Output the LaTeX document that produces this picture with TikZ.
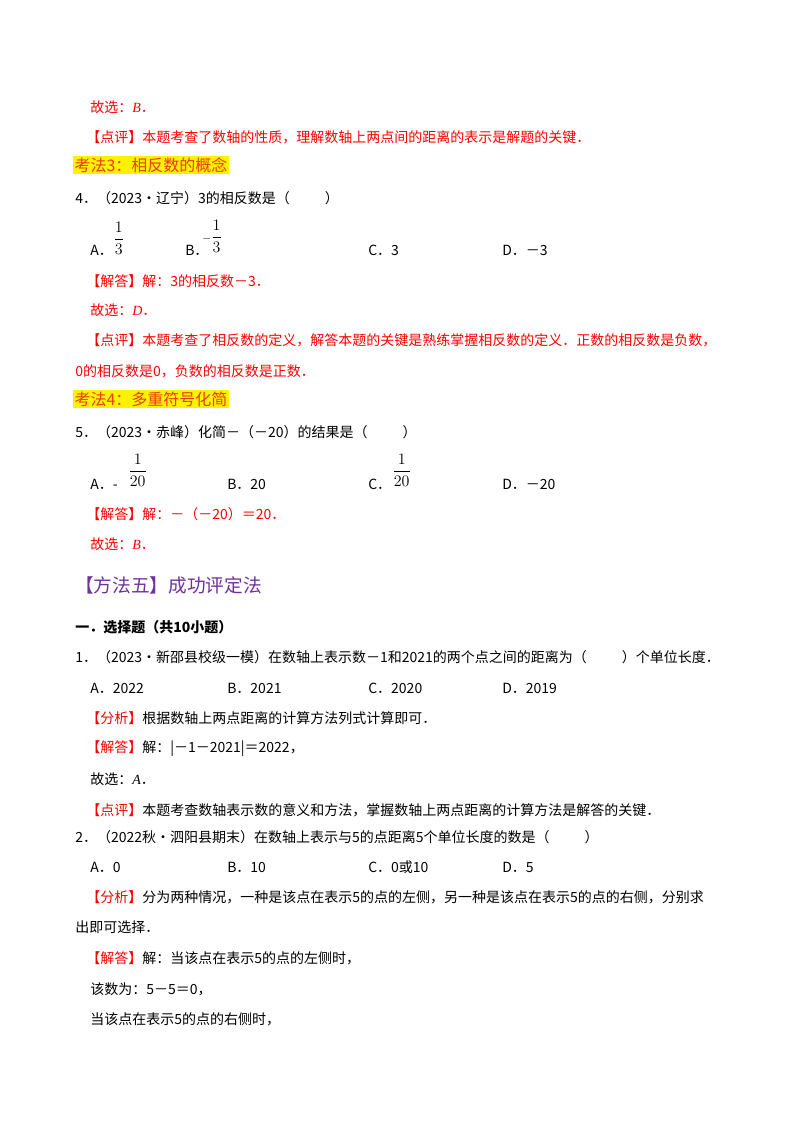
\documentclass[tikz,border=0pt]{standalone}
\usepackage{fontspec}
\setmainfont{Noto Sans CJK SC}
\newfontfamily\lat{Liberation Serif}
\begin{document}
\begin{tikzpicture}[x=0.75pt,y=-0.75pt,
  t/.style={anchor=west,inner sep=0pt,font=\fontsize{10.5}{12}\selectfont},
  r/.style={t,text=red},
  hl/.style={t,fill=yellow,text={rgb,255:red,235;green,60;blue,20},inner sep=1pt,font=\fontsize{12}{14}\selectfont},
  fr/.style={anchor=west,inner sep=0pt,font=\fontsize{12}{14}\selectfont\lat}]
\useasboundingbox (0,0) rectangle (800,1132);
\fill[white] (0,0) rectangle (800,1132);
\node[r] (a1) at (90,107) {故选：\textit{\lat B}．};
\node[r] (a2) at (86,137) {【点评】本题考查了数轴的性质，理解数轴上两点间的距离的表示是解题的关键．};
\node[hl] (h3) at (73,165) {考法3：相反数的概念};
\node[t] (q4) at (75,198) {4．（2023•辽宁）3的相反数是（\hspace{2.5em}）};
\node[t] (q4a) at (90,250) {A．};
\node[fr] (f4a) at (113,238) {$\displaystyle\frac{1}{3}$};
\node[t] (q4b) at (185,250) {B．};
\node[fr] (f4b) at (202,236) {$\displaystyle{\scriptstyle-}\frac{1}{3}$};
\node[t] (q4c) at (368,250) {C．3};
\node[t] (q4d) at (502,250) {D．－3};
\node[r] (s4) at (86,281) {【解答】解：3的相反数－3．};
\node[r] (g4) at (90,310) {故选：\textit{\lat D}．};
\node[r] (p4) at (86,340) {【点评】本题考查了相反数的定义，解答本题的关键是熟练掌握相反数的定义．正数的相反数是负数，};
\node[r] (p4b) at (75,371) {0的相反数是0，负数的相反数是正数．};
\node[hl] (h4) at (73,399) {考法4：多重符号化简};
\node[t] (q5) at (75,432) {5．（2023•赤峰）化简－（－20）的结果是（\hspace{2.5em}）};
\node[t] (q5a) at (90,484) {A．-};
\node[fr] (f5a) at (128,470) {$\displaystyle\frac{1}{20}$};
\node[t] (q5b) at (227,484) {B．20};
\node[t] (q5c) at (368,484) {C．};
\node[fr] (f5c) at (392,470) {$\displaystyle\frac{1}{20}$};
\node[t] (q5d) at (502,484) {D．－20};
\node[r] (s5) at (86,514) {【解答】解：－（－20）＝20．};
\node[r] (g5) at (90,544) {故选：\textit{\lat B}．};
\node[t,text={rgb,255:red,112;green,48;blue,160},font=\fontsize{14}{16}\selectfont] (m5) at (75,585) {【方法五】成功评定法};
\node[t,font=\fontsize{10.5}{12}\selectfont\bfseries] (sec) at (75,627) {一．选择题（共10小题）};
\node[t] (q1) at (75,657) {1．（2023•新邵县校级一模）在数轴上表示数－1和2021的两个点之间的距离为（\hspace{2.5em}）个单位长度．};
\node[t] (q1a) at (90,688) {A．2022};
\node[t] (q1b) at (227,688) {B．2021};
\node[t] (q1c) at (368,688) {C．2020};
\node[t] (q1d) at (502,688) {D．2019};
\node[t] (f1) at (86,718) {\textcolor{red}{【分析】}根据数轴上两点距离的计算方法列式计算即可．};
\node[t] (s1) at (86,749) {\textcolor{red}{【解答】}解：|－1－2021|＝2022，};
\node[t] (g1) at (90,779) {故选：\textit{\lat A}．};
\node[t] (p1) at (86,810) {\textcolor{red}{【点评】}本题考查数轴表示数的意义和方法，掌握数轴上两点距离的计算方法是解答的关键．};
\node[t] (q2) at (75,837) {2．（2022秋•泗阳县期末）在数轴上表示与5的点距离5个单位长度的数是（\hspace{2.5em}）};
\node[t] (q2a) at (90,867) {A．0};
\node[t] (q2b) at (227,867) {B．10};
\node[t] (q2c) at (368,867) {C．0或10};
\node[t] (q2d) at (502,867) {D．5};
\node[t] (f2) at (86,897) {\textcolor{red}{【分析】}分为两种情况，一种是该点在表示5的点的左侧，另一种是该点在表示5的点的右侧，分别求};
\node[t] (f2b) at (75,927) {出即可选择．};
\node[t] (s2) at (86,958) {\textcolor{red}{【解答】}解：当该点在表示5的点的左侧时，};
\node[t] (s2b) at (90,989) {该数为：5－5＝0，};
\node[t] (s2c) at (90,1019) {当该点在表示5的点的右侧时，};
\end{tikzpicture}
\end{document}
